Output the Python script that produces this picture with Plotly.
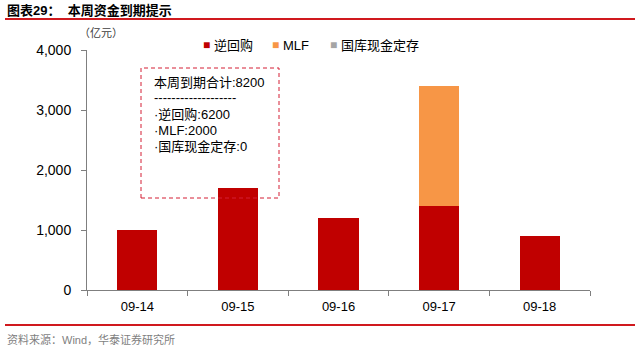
import plotly.graph_objects as go

categories = ["09-14", "09-15", "09-16", "09-17", "09-18"]
reverse_repo = [1000, 1700, 1200, 1400, 900]
mlf = [0, 0, 0, 2000, 0]
treasury_deposit = [0, 0, 0, 0, 0]
series_names = ["逆回购", "MLF", "国库现金定存"]
series_colors = ["#C00000", "#F79646", "#A5A5A5"]
y_ticks = [0, 1000, 2000, 3000, 4000]
box_lines = ["本周到期合计:8200", "-------------------", "·逆回购:6200", "·MLF:2000", "·国库现金定存:0"]

W, H = 640, 347
L, R, T, B = 87, 50, 50, 57
pw, ph = W - L - R, H - T - B

def px(x):
    return (x - L) / pw

def py(y):
    return (H - B - y) / ph

FONT = "Arial, 'Liberation Sans', 'Noto Sans CJK SC', sans-serif"

fig = go.Figure()
for name, vals, col in zip(series_names, [reverse_repo, mlf, treasury_deposit], series_colors):
    fig.add_bar(x=categories, y=vals, name=name, marker_color=col, marker_line_width=0)

fig.update_layout(
    width=W, height=H, barmode="stack", bargap=0.6,
    margin=dict(l=L, r=R, t=T, b=B, autoexpand=False),
    paper_bgcolor="white", plot_bgcolor="white",
    font=dict(family=FONT, color="#000000", size=13),
    showlegend=False,
    xaxis=dict(showline=True, linecolor="#7f7f7f", linewidth=1, ticks="outside", ticklen=5,
               tickcolor="#7f7f7f", tickson="boundaries", showgrid=False,
               tickfont=dict(size=13), ticklabelstandoff=4),
    yaxis=dict(range=[0, 4000], tickvals=y_ticks, tickformat=",", showline=True,
               linecolor="#7f7f7f", linewidth=1, ticks="outside", ticklen=5, tickcolor="#7f7f7f",
               showgrid=False, zeroline=False, tickfont=dict(size=14), ticklabelstandoff=7),
)

shapes = [
    dict(type="line", xref="paper", yref="paper", x0=px(5), x1=px(635), y0=py(19), y1=py(19),
         line=dict(color="#D0191E", width=2)),
    dict(type="line", xref="paper", yref="paper", x0=px(5), x1=px(635), y0=py(325), y1=py(325),
         line=dict(color="#D0191E", width=2)),
    dict(type="rect", xref="paper", yref="paper", x0=px(141), x1=px(279), y0=py(198), y1=py(68),
         line=dict(color="#D41F35", width=1, dash="4px,3px"), fillcolor="rgba(0,0,0,0)"),
]
fig.update_layout(shapes=shapes)

ann = [
    dict(text="<b>图表29：  本周资金到期提示</b>", x=px(5), y=py(11), xanchor="left", yanchor="middle",
         font=dict(size=13, color="#000000")),
    dict(text="（亿元）", x=px(101), y=py(33), xanchor="center", yanchor="middle",
         font=dict(size=11, color="#404040")),
    dict(text="资料来源：Wind，华泰证券研究所", x=px(5), y=py(339), xanchor="left", yanchor="middle",
         font=dict(size=11, color="#7f7f7f")),
]
# legend drawn as text entries
legend_x = [201, 270, 328]
for name, col, lx in zip(series_names, series_colors, legend_x):
    ann.append(dict(text="■", x=px(lx), y=py(45), xanchor="left", yanchor="middle",
                    font=dict(size=12, color=col)))
    ann.append(dict(text=name, x=px(lx + 11), y=py(45), xanchor="left", yanchor="middle",
                    font=dict(size=13, color="#000000")))
line_ys = [83, 98, 114, 130, 146]
for t, yy in zip(box_lines, line_ys):
    ann.append(dict(text=t, x=px(152), y=py(yy), xanchor="left", yanchor="middle",
                    font=dict(size=13, color="#000000")))
for a in ann:
    a.update(xref="paper", yref="paper", showarrow=False)
fig.update_layout(annotations=ann)

fig.write_html("out.html")
